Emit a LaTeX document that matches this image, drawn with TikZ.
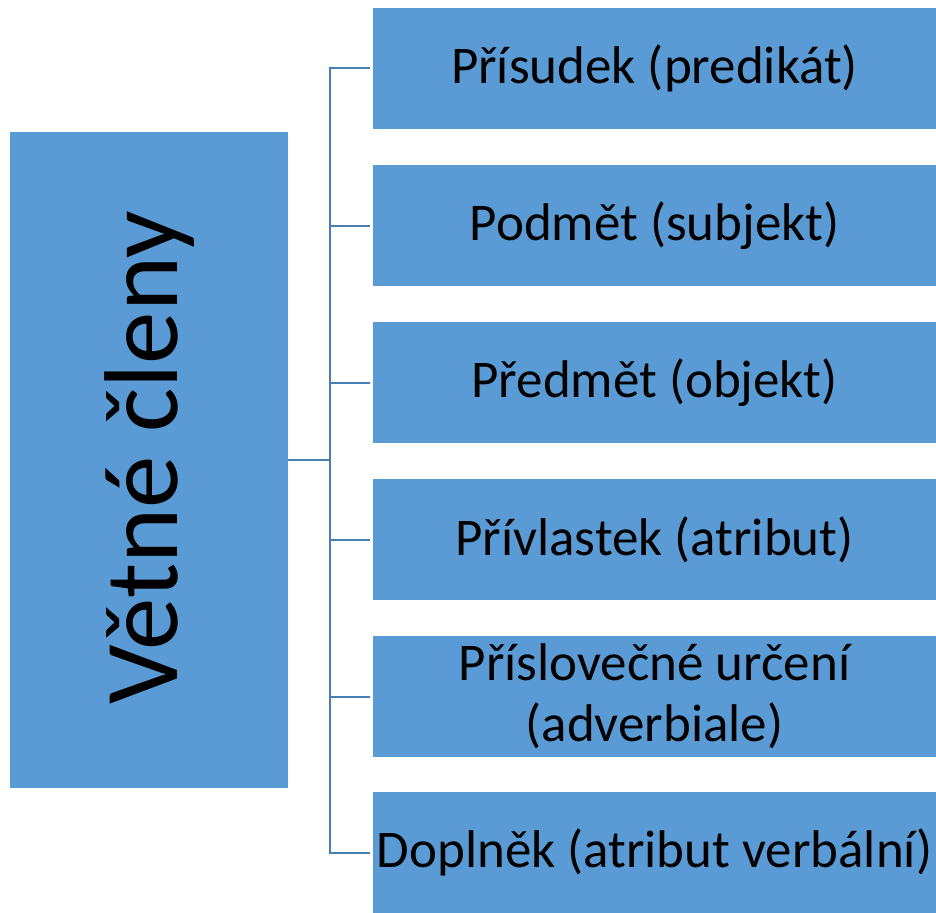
\documentclass[tikz,border=0pt]{standalone}
\usepackage{fontspec}
\setmainfont{Carlito}
\definecolor{boxfill}{HTML}{5B9BD5}
\definecolor{linecol}{HTML}{4A7EB0}
\tikzset{
  leftbox/.style={draw=none, fill=boxfill, minimum width=278pt, minimum height=656pt, inner sep=0pt},
  rightbox/.style={draw=none, fill=boxfill, minimum width=563pt, minimum height=121pt, inner sep=0pt, align=center,
    font=\fontsize{53}{61}\selectfont},
  conn/.style={draw=linecol, line width=2pt}
}
\begin{document}
\begin{tikzpicture}[x=1pt,y=-1pt]
\useasboundingbox (0,0) rectangle (936,912);
\node[leftbox] (L) at (149,460) {};
\node[rotate=90, font=\fontsize{105}{120}\selectfont] (Lt) at (150,458) {Větné členy};
\node[rightbox] (R1) at (654.5,68.5) {Přísudek (predikát)};
\node[rightbox] (R2) at (654.5,225.5) {Podmět (subjekt)};
\node[rightbox] (R3) at (654.5,382.5) {Předmět (objekt)};
\node[rightbox] (R4) at (654.5,539.5) {Přívlastek (atribut)};
\node[rightbox] (R5) at (654.5,696.5) {Příslovečné určení\\(adverbiale)};
\node[rightbox] (R6) at (654.5,852.5) {Doplněk (atribut verbální)};
\draw[conn] (L.east) -- ++(42,0) coordinate (j);
\foreach \r in {R1,R2,R3,R4,R5,R6}{
  \draw[conn, shorten >=3pt] (j) |- (\r.west);
}
\end{tikzpicture}
\end{document}
